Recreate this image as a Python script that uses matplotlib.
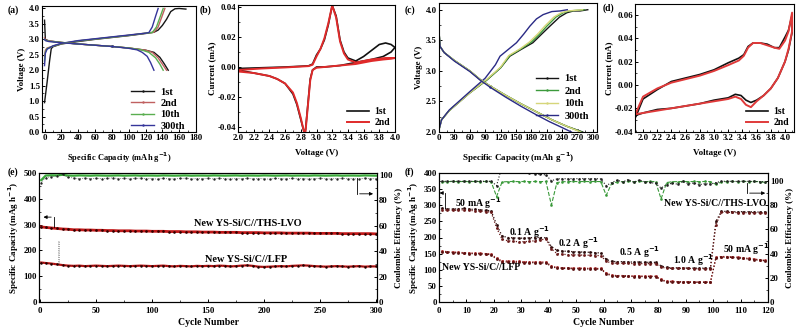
import matplotlib
matplotlib.use("Agg")
import matplotlib.pyplot as plt
from matplotlib.ticker import MultipleLocator, AutoMinorLocator, FormatStrFormatter

plt.rcParams["font.family"] = ["Liberation Serif", "DejaVu Serif"]
plt.rcParams["font.weight"] = "bold"
plt.rcParams["axes.labelweight"] = "bold"
plt.rcParams["mathtext.default"] = "bf"
plt.rcParams["axes.linewidth"] = 0.8

# ---------------- (a) LFP charge / discharge ----------------
a_cycles = ["1st", "2nd", "10th", "300th"]
a_colors = ["#151515", "#c06060", "#5aae50", "#35359a"]
a_chg_cap = [
    [0, 3, 6, 8, 10, 20, 40, 60, 80, 100, 120, 130, 135, 140, 145, 150, 155, 160, 168],
    [0, 1, 3, 10, 20, 40, 60, 80, 100, 120, 130, 135, 139, 143],
    [0, 1, 3, 10, 20, 40, 60, 80, 100, 120, 128, 133, 137, 141],
    [0, 1, 3, 10, 20, 40, 60, 80, 100, 120, 124, 128, 132, 135],
]
a_chg_v = [
    [0.95, 1.6, 2.3, 2.7, 2.76, 2.85, 2.93, 3.0, 3.06, 3.12, 3.19, 3.23, 3.3, 3.45, 3.65, 3.9, 3.99, 4.0, 3.98],
    [2.45, 2.65, 2.72, 2.78, 2.86, 2.95, 3.01, 3.07, 3.13, 3.2, 3.23, 3.4, 3.7, 4.0],
    [2.3, 2.6, 2.7, 2.78, 2.86, 2.95, 3.01, 3.07, 3.13, 3.2, 3.22, 3.4, 3.7, 4.0],
    [2.15, 2.55, 2.68, 2.79, 2.87, 2.96, 3.02, 3.08, 3.14, 3.2, 3.22, 3.4, 3.75, 4.0],
]
a_dis_cap = [
    [0, 1, 5, 20, 40, 60, 80, 100, 120, 130, 137, 142, 147],
    [0, 1, 5, 20, 40, 60, 80, 100, 120, 128, 135, 140, 145],
    [0, 1, 5, 20, 40, 60, 80, 100, 115, 124, 132, 137, 141],
    [0, 1, 5, 20, 40, 60, 80, 100, 110, 116, 122, 126, 130],
]
a_dis_v = [
    [3.62, 3.0, 2.95, 2.9, 2.85, 2.81, 2.77, 2.72, 2.65, 2.58, 2.42, 2.22, 2.0],
    [3.05, 2.98, 2.95, 2.9, 2.85, 2.81, 2.77, 2.72, 2.65, 2.58, 2.4, 2.2, 2.0],
    [3.0, 2.97, 2.94, 2.9, 2.85, 2.81, 2.77, 2.72, 2.66, 2.58, 2.4, 2.2, 2.0],
    [3.0, 2.96, 2.93, 2.89, 2.85, 2.81, 2.77, 2.71, 2.66, 2.58, 2.45, 2.25, 2.0],
]

# ---------------- (b) LFP CV ----------------
b_v = [2.0, 2.3, 2.6, 2.8, 2.9, 2.95, 3.0, 3.05, 3.1, 3.15,
       3.2, 3.25, 3.3, 3.35, 3.4, 3.5, 3.6, 3.7, 3.8, 3.88,
       3.95, 4.0, 3.95, 3.85, 3.7, 3.5, 3.3, 3.1, 3.0, 2.95,
       2.92, 2.89, 2.86, 2.84, 2.8, 2.75, 2.7, 2.6, 2.5, 2.4,
       2.2, 2.0]
b_i_1st = [-0.001, -0.0005, 0.0, 0.0005, 0.0008, 0.002, 0.008, 0.012, 0.018, 0.028,
           0.041, 0.034, 0.018, 0.01, 0.006, 0.004, 0.007, 0.011, 0.015, 0.016,
           0.015, 0.013, 0.01, 0.007, 0.005, 0.003, 0.001, 0.0, 0.0, -0.002,
           -0.008, -0.025, -0.042, -0.043, -0.035, -0.025, -0.018, -0.011, -0.008, -0.006,
           -0.004, -0.002]
b_i_2nd = [-0.002, -0.001, -0.0003, 0.0003, 0.0006, 0.0015, 0.007, 0.012, 0.019, 0.029,
           0.041, 0.033, 0.017, 0.009, 0.005, 0.003, 0.004, 0.005, 0.0055, 0.006,
           0.006, 0.006, 0.0055, 0.005, 0.004, 0.002, 0.001, 0.0, -0.0005, -0.002,
           -0.009, -0.026, -0.043, -0.043, -0.034, -0.024, -0.017, -0.011, -0.008, -0.006,
           -0.004, -0.003]

# ---------------- (c) LVO charge / discharge ----------------
c_colors = ["#151515", "#3c9a3c", "#d6d67a", "#2a2a85"]
c_chg_cap = [
    [0, 5, 20, 60, 93, 120, 138, 160, 183, 200, 216, 235, 249, 262, 275, 290],
    [0, 5, 20, 60, 93, 120, 138, 160, 180, 196, 210, 228, 242, 255, 268, 283],
    [0, 5, 20, 60, 93, 120, 136, 158, 176, 192, 206, 224, 238, 252, 265, 280],
    [0, 5, 20, 60, 90, 110, 119, 135, 151, 165, 177, 190, 203, 220, 236, 250],
]
c_chg_v = [
    [2.04, 2.2, 2.35, 2.64, 2.85, 3.05, 3.24, 3.35, 3.46, 3.6, 3.73, 3.88, 3.95, 3.98, 3.98, 4.0],
    [2.04, 2.2, 2.35, 2.64, 2.85, 3.05, 3.25, 3.36, 3.47, 3.6, 3.73, 3.88, 3.95, 3.98, 3.99, 4.0],
    [2.04, 2.2, 2.35, 2.64, 2.86, 3.06, 3.25, 3.36, 3.47, 3.6, 3.73, 3.88, 3.95, 3.98, 3.99, 4.0],
    [2.04, 2.2, 2.36, 2.66, 2.88, 3.1, 3.24, 3.35, 3.46, 3.6, 3.73, 3.85, 3.92, 3.97, 3.98, 4.0],
]
c_dis_cap = [
    [0, 2, 10, 30, 60, 80, 100, 130, 160, 190, 220, 250, 280],
    [0, 2, 10, 30, 60, 80, 100, 130, 160, 190, 220, 250, 278],
    [0, 2, 10, 30, 60, 80, 100, 130, 160, 190, 220, 250, 276],
    [0, 2, 10, 30, 60, 80, 100, 130, 160, 190, 215, 238, 258],
]
c_dis_v = [
    [3.65, 3.4, 3.3, 3.17, 3.0, 2.86, 2.75, 2.6, 2.46, 2.33, 2.2, 2.09, 2.0],
    [3.65, 3.4, 3.3, 3.17, 3.0, 2.86, 2.75, 2.6, 2.46, 2.33, 2.2, 2.09, 2.0],
    [3.65, 3.4, 3.3, 3.17, 3.0, 2.86, 2.75, 2.6, 2.46, 2.33, 2.2, 2.09, 2.0],
    [3.65, 3.4, 3.3, 3.16, 2.99, 2.85, 2.73, 2.57, 2.42, 2.28, 2.17, 2.08, 2.0],
]

# ---------------- (d) LVO CV ----------------
d_v = [1.9, 2.0, 2.2, 2.4, 2.6, 2.8, 3.0, 3.2, 3.35, 3.42,
       3.48, 3.55, 3.65, 3.75, 3.85, 3.92, 4.0, 4.05, 4.1, 4.1,
       4.05, 4.0, 3.9, 3.8, 3.7, 3.6, 3.52, 3.45, 3.38, 3.3,
       3.2, 3.0, 2.8, 2.6, 2.4, 2.2, 2.0, 1.9]
d_i_1st = [-0.027, -0.012, -0.004, 0.003, 0.006, 0.009, 0.013, 0.019, 0.023, 0.026,
           0.033, 0.036, 0.036, 0.035, 0.032, 0.032, 0.041, 0.047, 0.06, 0.045,
           0.03, 0.02, 0.006, -0.003, -0.009, -0.013, -0.015, -0.013, -0.009, -0.008,
           -0.011, -0.013, -0.016, -0.018, -0.02, -0.021, -0.024, -0.026]
d_i_2nd = [-0.024, -0.01, -0.003, 0.002, 0.005, 0.008, 0.012, 0.017, 0.021, 0.025,
           0.032, 0.036, 0.036, 0.034, 0.032, 0.031, 0.038, 0.046, 0.062, 0.046,
           0.031, 0.02, 0.006, -0.003, -0.009, -0.014, -0.019, -0.017, -0.012, -0.01,
           -0.012, -0.014, -0.016, -0.018, -0.02, -0.022, -0.024, -0.025]

# ---------------- (e) long cycling ----------------
cyc_e = [1] + list(range(5, 301, 5))
lvo_cap_e = [291, 289, 287, 285, 283, 282, 280, 280, 279, 279,
             278, 278, 277, 277, 276, 276, 276, 275, 275, 275,
             274, 274, 274, 273, 273, 273, 272, 272, 272, 271,
             271, 271, 270, 270, 270, 270, 269, 269, 269, 269,
             268, 268, 268, 268, 267, 267, 267, 267, 267, 266,
             266, 266, 266, 266, 265, 265, 265, 265, 265, 265,
             264]
lfp_cap_e = [153, 151, 149, 146, 143, 141, 140, 141, 139, 140,
             141, 140, 139, 140, 141, 140, 139, 140, 141, 140,
             139, 140, 141, 139, 138, 140, 139, 138, 140, 139,
             140, 139, 141, 140, 138, 139, 141, 142, 140, 137,
             136, 137, 138, 139, 138, 140, 141, 142, 141, 139,
             138, 137, 138, 139, 138, 137, 138, 139, 137, 138,
             138]
lvo_ce_e = [96.0, 99.6, 99.8, 99.7, 100.2, 99.6, 99.5, 99.7, 99.6, 99.5,
            99.7, 99.6, 99.5, 99.6, 99.7, 99.5, 99.6, 99.7, 99.5, 99.6,
            99.6, 99.5, 99.7, 99.6, 99.5, 99.6, 99.7, 99.5, 99.6, 99.6,
            99.5, 99.7, 99.6, 99.5, 99.6, 99.7, 99.5, 99.6, 99.6, 99.5,
            99.7, 99.6, 99.5, 99.6, 99.7, 99.5, 99.6, 99.6, 99.5, 99.7,
            99.6, 99.5, 99.6, 99.7, 99.5, 99.6, 99.6, 99.5, 99.7, 99.6,
            99.5]
lfp_ce_e = [94.0, 98.0, 98.6, 99.4, 100.5, 98.2, 97.6, 97.2, 97.6, 97.1,
            97.5, 97.0, 97.3, 97.8, 97.1, 97.4, 96.9, 97.3, 97.6, 97.0,
            97.2, 96.8, 97.4, 97.1, 96.9, 97.3, 97.5, 96.8, 97.2, 97.0,
            97.3, 96.9, 97.4, 97.1, 96.8, 97.2, 97.0, 97.5, 96.9, 97.2,
            97.0, 96.8, 97.3, 97.1, 96.9, 97.4, 97.0, 97.2, 96.8, 97.1,
            97.3, 97.0, 96.9, 97.2, 97.4, 97.0, 97.1, 96.8, 97.6, 97.2,
            97.0]
lfp_glitch_cyc = [16, 16, 17, 17]
lfp_glitch_cap = [150, 238, 238, 150]

# ---------------- (f) rate capability ----------------
cyc_f = list(range(1, 120, 2))
rate_labels = ["50 mA g$^{-1}$", "0.1 A g$^{-1}$", "0.2 A g$^{-1}$",
               "0.5 A g$^{-1}$", "1.0 A g$^{-1}$", "50 mA g$^{-1}$"]
lvo_chg_f = [290, 289, 288, 289, 290, 288, 287, 286, 284, 283,
             240, 205, 200, 199, 198, 198, 199, 200, 200, 199,
             172, 160, 158, 157, 156, 155, 155, 154, 153, 152,
             132, 126, 125, 125, 124, 124, 124, 123, 123, 123,
             112, 107, 106, 106, 106, 105, 105, 105, 105, 105,
             250, 281, 281, 280, 280, 280, 280, 279, 279, 279]
lvo_dis_f = [286, 285, 284, 285, 286, 284, 283, 282, 280, 279,
             230, 195, 190, 188, 187, 187, 188, 190, 193, 195,
             165, 150, 148, 147, 146, 146, 145, 145, 144, 144,
             126, 121, 120, 120, 120, 119, 119, 119, 119, 119,
             108, 105, 104, 104, 104, 104, 103, 103, 103, 103,
             240, 278, 278, 278, 277, 277, 277, 277, 276, 276]
lfp_chg_f = [158, 156, 155, 154, 153, 152, 152, 151, 150, 149,
             135, 128, 127, 126, 126, 125, 125, 124, 124, 124,
             112, 107, 106, 106, 105, 105, 105, 104, 104, 104,
             90, 83, 82, 82, 81, 81, 81, 80, 80, 80,
             70, 64, 64, 63, 63, 63, 62, 62, 62, 62,
             138, 141, 141, 140, 139, 137, 135, 133, 131, 129]
lfp_dis_f = [155, 154, 153, 152, 151, 150, 150, 149, 148, 147,
             132, 125, 124, 123, 123, 122, 122, 122, 121, 121,
             110, 105, 104, 104, 103, 103, 103, 102, 102, 102,
             88, 81, 80, 80, 80, 79, 79, 79, 79, 79,
             68, 63, 62, 62, 62, 61, 61, 61, 61, 61,
             136, 139, 139, 138, 137, 135, 133, 131, 129, 128]
lvo_ce_f = [99.0, 99.3, 99.4, 99.3, 99.4, 99.3, 99.4, 99.3, 99.4, 99.3,
            87.0, 99.0, 99.3, 99.4, 99.3, 99.4, 99.3, 99.4, 99.3, 99.4,
            80.0, 98.5, 99.2, 99.3, 99.4, 99.3, 99.4, 99.3, 99.4, 99.3,
            88.0, 98.0, 99.0, 99.3, 99.4, 99.3, 99.4, 99.3, 99.4, 99.3,
            85.0, 98.5, 99.2, 99.3, 99.4, 99.3, 99.4, 99.3, 99.4, 99.3,
            97.0, 99.0, 99.3, 99.4, 99.3, 99.4, 99.3, 99.4, 99.3, 98.6]
lfp_ce_f = [99.5, 99.6, 99.5, 99.6, 99.5, 99.6, 99.5, 99.6, 99.5, 99.6,
            96.0, 112.0, 115.0, 115.0, 115.0, 110.0, 106.5, 105.8, 105.4, 104.8,
            100.0, 101.5, 101.8, 101.6, 101.8, 101.7, 101.8, 101.6, 101.7, 101.5,
            96.0, 98.5, 100.5, 99.0, 101.0, 98.8, 100.6, 99.2, 98.6, 97.8,
            94.0, 96.8, 98.0, 97.2, 99.5, 97.5, 98.2, 96.8, 97.6, 97.2,
            98.5, 99.5, 99.6, 99.5, 99.4, 99.6, 99.5, 99.4, 99.3, 99.2]

FS_TICK = 6.3
FS_LAB = 6.5

fig = plt.figure(figsize=(7.99, 3.28), dpi=100)
W, H = 799.0, 328.0


def px_axes(x0, y0, x1, y1):
    return fig.add_axes([x0 / W, 1 - y1 / H, (x1 - x0) / W, (y1 - y0) / H])


def style(ax, xpad=1.5):
    ax.tick_params(direction="in", labelsize=FS_TICK, length=2.5, width=0.7,
                   pad=1.5, top=False, right=False)
    ax.tick_params(axis="x", pad=xpad)
    ax.tick_params(which="minor", direction="in", length=1.5, width=0.5)
    for lab in ax.get_xticklabels() + ax.get_yticklabels():
        lab.set_fontweight("bold")


def style_right(ax2):
    ax2.yaxis.set_major_locator(MultipleLocator(20))
    ax2.yaxis.set_minor_locator(AutoMinorLocator(2))
    ax2.tick_params(direction="in", labelsize=FS_TICK, length=2.5, width=0.7, pad=1.5)
    ax2.tick_params(which="minor", direction="in", length=1.5, width=0.5)
    ax2.set_ylabel("Coulombic Efficiency (%)", fontsize=6.5, labelpad=2)


def legend(ax, size=6.5, **kw):
    ax.legend(frameon=False, handlelength=2.2, handletextpad=0.6,
              prop={"weight": "bold", "size": size}, **kw)


# (a)
ax = px_axes(42, 6, 196, 132)
for cap, v, col in zip(a_chg_cap, a_chg_v, a_colors):
    ax.plot(cap, v, color=col, lw=1.0)
for cap, v, col, lab in zip(a_dis_cap, a_dis_v, a_colors, a_cycles):
    ax.plot(cap, v, color=col, lw=1.0, marker=".", ms=1.5, markevery=[6], label=lab)
ax.set_xlim(-3, 180)
ax.set_ylim(0, 4.08)
ax.xaxis.set_major_locator(MultipleLocator(20))
ax.yaxis.set_major_locator(MultipleLocator(0.5))
ax.yaxis.set_major_formatter(FormatStrFormatter("%.1f"))
ax.xaxis.set_minor_locator(AutoMinorLocator(2))
ax.yaxis.set_minor_locator(AutoMinorLocator(2))
ax.set_xlabel("Specific Capacity (mAh g$^{-1}$)", fontsize=FS_LAB - 0.5, labelpad=6)
ax.set_ylabel("Voltage (V)", fontsize=FS_LAB, labelpad=2)
style(ax)
legend(ax, size=7.5, loc="lower right", bbox_to_anchor=(0.97, -0.04),
       labelspacing=0.2, borderaxespad=0.2)
fig.text(8 / W, 1 - 10 / H, "(a)", fontsize=7, fontweight="bold", va="center")

# (b)
ax = px_axes(238, 5, 395, 132)
ax.plot(b_v, b_i_1st, color="#111111", lw=1.2, label="1st")
ax.plot(b_v, b_i_2nd, color="#e02a2a", lw=1.4, label="2nd")
ax.set_xlim(2.0, 4.0)
ax.set_ylim(-0.0433, 0.0413)
ax.xaxis.set_major_locator(MultipleLocator(0.2))
ax.yaxis.set_major_locator(MultipleLocator(0.02))
ax.xaxis.set_major_formatter(FormatStrFormatter("%.1f"))
ax.yaxis.set_major_formatter(FormatStrFormatter("%.2f"))
ax.xaxis.set_minor_locator(AutoMinorLocator(2))
ax.yaxis.set_minor_locator(AutoMinorLocator(2))
ax.set_xlabel("Voltage (V)", fontsize=FS_LAB, labelpad=5)
ax.set_ylabel("Current (mA)", fontsize=FS_LAB, labelpad=1)
style(ax)
legend(ax, size=7, loc="lower right", labelspacing=0.2, borderaxespad=0.1)
fig.text(200 / W, 1 - 10 / H, "(b)", fontsize=7, fontweight="bold", va="center")

# (c)
ax = px_axes(439, 3, 597, 132)
for cap, v, col in zip(c_chg_cap, c_chg_v, c_colors):
    ax.plot(cap, v, color=col, lw=1.0)
for cap, v, col, lab in zip(c_dis_cap, c_dis_v, c_colors, a_cycles):
    ax.plot(cap, v, color=col, lw=1.0, marker=".", ms=1.5, markevery=[6], label=lab)
ax.set_xlim(0, 308)
ax.set_ylim(2.0, 4.11)
ax.xaxis.set_major_locator(MultipleLocator(30))
ax.yaxis.set_major_locator(MultipleLocator(0.5))
ax.yaxis.set_major_formatter(FormatStrFormatter("%.1f"))
ax.xaxis.set_minor_locator(AutoMinorLocator(2))
ax.yaxis.set_minor_locator(AutoMinorLocator(2))
ax.set_xlabel("Specific Capacity (mAh g$^{-1}$)", fontsize=FS_LAB, labelpad=6)
ax.set_ylabel("Voltage (V)", fontsize=FS_LAB, labelpad=2)
style(ax)
legend(ax, size=7.5, loc="lower right", bbox_to_anchor=(0.99, 0.04),
       labelspacing=0.3, borderaxespad=0.2)
fig.text(405 / W, 1 - 10 / H, "(c)", fontsize=7, fontweight="bold", va="center")

# (d)
ax = px_axes(635, 4, 794, 132)
ax.plot(d_v, d_i_1st, color="#111111", lw=1.2, label="1st")
ax.plot(d_v, d_i_2nd, color="#e03a3a", lw=1.4, label="2nd")
ax.set_xlim(1.887, 4.127)
ax.set_ylim(-0.0403, 0.0694)
ax.xaxis.set_major_locator(MultipleLocator(0.2))
ax.yaxis.set_major_locator(MultipleLocator(0.02))
ax.xaxis.set_major_formatter(FormatStrFormatter("%.1f"))
ax.yaxis.set_major_formatter(FormatStrFormatter("%.2f"))
ax.xaxis.set_minor_locator(AutoMinorLocator(2))
ax.yaxis.set_minor_locator(AutoMinorLocator(2))
ax.set_xlabel("Voltage (V)", fontsize=FS_LAB, labelpad=5)
ax.set_ylabel("Current (mA)", fontsize=FS_LAB, labelpad=1)
style(ax)
legend(ax, size=7, loc="lower right", labelspacing=0.2, borderaxespad=0.1)
fig.text(603 / W, 1 - 8 / H, "(d)", fontsize=7, fontweight="bold", va="center")

# (e)
ax = px_axes(39, 173, 377, 302)
ax.plot(cyc_e, lvo_cap_e, color="#c01818", lw=2.0)
ax.plot(cyc_e, lvo_cap_e, color="#300000", lw=0, marker="o", ms=0.9)
ax.plot(cyc_e, lfp_cap_e, color="#c01818", lw=1.6)
ax.plot(cyc_e, lfp_cap_e, color="#200000", lw=0.5, ls=":", marker="o", ms=0.8)
ax.plot(lfp_glitch_cyc, lfp_glitch_cap, color="#555555", lw=0.5, ls=":")
ax.set_xlim(-1, 301)
ax.set_ylim(0, 500)
ax.xaxis.set_major_locator(MultipleLocator(50))
ax.yaxis.set_major_locator(MultipleLocator(100))
ax.xaxis.set_minor_locator(AutoMinorLocator(2))
ax.yaxis.set_minor_locator(AutoMinorLocator(2))
ax.set_xlabel("Cycle Number", fontsize=7, labelpad=2)
ax.set_ylabel("Specific Capacity (mAg h$^{-1}$)", fontsize=6.5, labelpad=2)
style(ax, xpad=3.5)
ax.annotate("", xy=(0.5, 329), xytext=(12.4, 329),
            arrowprops=dict(arrowstyle="-|>", lw=0.6, color="k", mutation_scale=5))
ax.plot([12.4, 12.4], [292, 329], color="k", lw=0.6)
ax.text(186, 303, "New YS-Si/C//THS-LVO", fontsize=7.4, fontweight="bold", ha="center", va="center")
ax.text(184, 166, "New YS-Si/C//LFP", fontsize=7.4, fontweight="bold", ha="center", va="center")
ax2 = ax.twinx()
ax2.plot(cyc_e, lvo_ce_e, color="#3aaa3a", lw=1.6)
ax2.plot(cyc_e, lfp_ce_e, color="#222222", lw=0.5, ls=":", marker="o", ms=0.7)
ax2.set_ylim(0, 101.6)
style_right(ax2)
ax2.plot([283, 283], [97.5, 85.2], color="k", lw=0.6)
ax2.annotate("", xy=(300, 85.2), xytext=(283, 85.2),
             arrowprops=dict(arrowstyle="-|>", lw=0.6, color="k", mutation_scale=5))
fig.text(8 / W, 1 - 172 / H, "(e)", fontsize=7, fontweight="bold", va="center")

# (f)
ax = px_axes(439, 173, 768, 302)
ax.plot(cyc_f, lvo_chg_f, color="#2a0a0a", lw=0.9, ls=":", marker="s", ms=0.9)
ax.plot(cyc_f, lvo_dis_f, color="#6a1a1a", lw=0.9, ls=":", marker="s", ms=0.9)
ax.plot(cyc_f, lfp_chg_f, color="#a02020", lw=0.9, ls=":", marker="s", ms=0.9)
ax.plot(cyc_f, lfp_dis_f, color="#5a1010", lw=0.9, ls=":", marker="s", ms=0.9)
ax.set_xlim(0, 120)
ax.set_ylim(0, 400)
ax.xaxis.set_major_locator(MultipleLocator(10))
ax.yaxis.set_major_locator(MultipleLocator(50))
ax.xaxis.set_minor_locator(AutoMinorLocator(2))
ax.yaxis.set_minor_locator(AutoMinorLocator(2))
ax.set_xlabel("Cycle Number", fontsize=7, labelpad=2)
ax.set_ylabel("Specific Capacity (mAg h$^{-1}$)", fontsize=6.5, labelpad=2)
style(ax, xpad=3.5)
rate_pos = [(14.5, 308), (33, 218), (50.8, 184), (73, 156), (93, 131), (112, 165)]
for (x, y), lab in zip(rate_pos, rate_labels):
    ax.text(x, y, lab, fontsize=7, fontweight="bold", ha="center", va="center")
ax.text(119.3, 305, "New YS-Si/C//THS-LVO", fontsize=7, fontweight="bold", ha="right", va="center")
ax.text(1.0, 108, "New YS-Si/C//LFP", fontsize=7, fontweight="bold", ha="left", va="center")
ax.plot([2.2, 2.2], [292, 338], color="k", lw=0.6)
ax.annotate("", xy=(0.2, 338), xytext=(2.2, 338),
            arrowprops=dict(arrowstyle="-|>", lw=0.6, color="k", mutation_scale=5))
ax2 = ax.twinx()
ax2.plot(cyc_f, lvo_ce_f, color="#3a9a3a", lw=0.8, ls="--", marker="s", ms=0.8)
ax2.plot(cyc_f, lfp_ce_f, color="#222222", lw=0.8, ls=":", marker="s", ms=0.8)
ax2.set_ylim(0, 106.4)
style_right(ax2)
ax2.plot([112.3, 112.3], [98.5, 89.8], color="k", lw=0.6)
ax2.annotate("", xy=(120, 89.8), xytext=(112.3, 89.8),
             arrowprops=dict(arrowstyle="-|>", lw=0.6, color="k", mutation_scale=5))
fig.text(405 / W, 1 - 172 / H, "(f)", fontsize=7, fontweight="bold", va="center")

fig.savefig("out.png", dpi=100)
